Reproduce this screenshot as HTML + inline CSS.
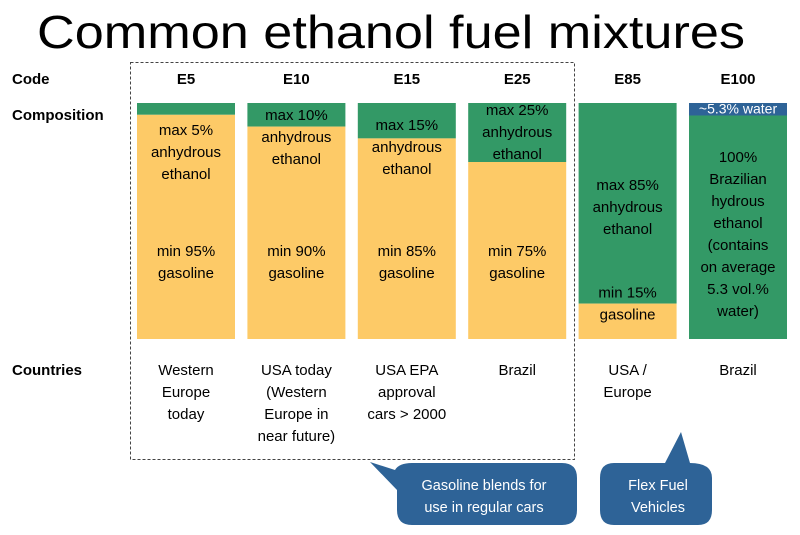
<!DOCTYPE html>
<html><head><meta charset="utf-8"><style>
html,body{margin:0;padding:0;background:#fff;}
svg{display:block;font-family:"Liberation Sans",sans-serif;}
</style></head><body>
<svg id="chart" width="800" height="535" viewBox="0 0 800 535" xmlns="http://www.w3.org/2000/svg">
<text x="391" y="48" font-size="46" text-anchor="middle" textLength="708" lengthAdjust="spacingAndGlyphs">Common ethanol fuel mixtures</text>
<text x="12" y="84" font-size="15" font-weight="bold">Code</text>
<text x="12" y="120" font-size="15" font-weight="bold">Composition</text>
<text x="12" y="375" font-size="15" font-weight="bold">Countries</text>
<rect x="130.5" y="62.5" width="444" height="397" fill="none" stroke="#444" stroke-dasharray="3,2"/>
<g id="bars"></g>
<path d="M412,463 L562,463 Q577,463 577,478 L577,510 Q577,525 562,525 L412,525 Q397,525 397,510 L397,490 L370,462 L395,470 Q399,463 412,463 Z" fill="#2E6397"/>
<text fill="#fff" font-size="14.5" text-anchor="middle"><tspan x="484" y="490">Gasoline blends for</tspan><tspan x="484" y="512">use in regular cars</tspan></text>
<path d="M614,463 L665,463 L681,432 L690,463 Q712,463 712,478 L712,510 Q712,525 698,525 L614,525 Q600,525 600,510 L600,478 Q600,463 614,463 Z" fill="#2E6397"/>
<text fill="#fff" font-size="14.5" text-anchor="middle"><tspan x="658" y="490">Flex Fuel</tspan><tspan x="658" y="512">Vehicles</tspan></text>
</svg>
<script>
const codes = ["E5","E10","E15","E25","E85","E100"];
const ethanolPct = [5,10,15,25,85,100];
const waterPct = [0,0,0,0,0,5.3];
const ethanolLabels = [["max 5%","anhydrous","ethanol"],["max 10%","anhydrous","ethanol"],["max 15%","anhydrous","ethanol"],["max 25%","anhydrous","ethanol"],["max 85%","anhydrous","ethanol"],["100%","Brazilian","hydrous","ethanol","(contains","on average","5.3 vol.%","water)"]];
const gasLabels = [["min 95%","gasoline"],["min 90%","gasoline"],["min 85%","gasoline"],["min 75%","gasoline"],["min 15%","gasoline"],[]];
const countries = [["Western","Europe","today"],["USA today","(Western","Europe in","near future)"],["USA EPA","approval","cars > 2000"],["Brazil"],["USA /","Europe"],["Brazil"]];

const NS="http://www.w3.org/2000/svg";
const g=document.getElementById('bars');
const top0=103, H=236, bw=98, x0=137, step=110.4;
const yScale=p=>top0+H*p/100;
const xPos=i=>x0+i*step;
function mk(tag,attrs){const e=document.createElementNS(NS,tag);for(const k in attrs)e.setAttribute(k,attrs[k]);g.appendChild(e);return e;}
function lines(arr,cx,y,name,fill,size){
  const t=mk('text',{x:cx,y:y,'text-anchor':'middle','font-size':size||15,fill:fill||'#000'});
  
  
  arr.forEach((s,k)=>{const ts=document.createElementNS(NS,'tspan');ts.setAttribute('x',cx);ts.setAttribute('y',y+k*22);ts.textContent=s;t.appendChild(ts);});
}
function ethanolLabelY(p){
  if(p<=5) return 135;
  if(p<=10) return 120;
  if(p<=15) return 130;
  if(p<=25) return 115;
  if(p<100) return 190;
  return 162;
}
codes.forEach((c,i)=>{
  const x=xPos(i), cx=x+bw/2;
  const code=mk('text',{x:cx,y:84,'text-anchor':'middle','font-size':15,'font-weight':'bold'});code.textContent=c;
  
  
  const w=waterPct[i], e=ethanolPct[i]-w;
  if(w>0){const r=mk('rect',{x:x,y:yScale(0),width:bw,height:yScale(w)-yScale(0),fill:'#2E6397'});
    
    }
  const re=mk('rect',{x:x,y:yScale(w),width:bw,height:yScale(w+e)-yScale(w),fill:'#339966'});
  
  
  if(ethanolPct[i]<100){const rg=mk('rect',{x:x,y:yScale(ethanolPct[i]),width:bw,height:yScale(100)-yScale(ethanolPct[i]),fill:'#FDCA67'});
    
    }
  if(w>0) lines(['~'+w+'% water'],cx,yScale(w)-2,'water-label-'+c.toLowerCase(),'#fff',14);
  lines(ethanolLabels[i],cx,ethanolLabelY(ethanolPct[i]),'ethanol-label-'+c.toLowerCase());
  if(gasLabels[i].length){
    const gy = ethanolPct[i]<=25 ? 256 : yScale(ethanolPct[i])-6;
    lines(gasLabels[i],cx,gy,'gasoline-label-'+c.toLowerCase());
  }
  lines(countries[i],cx,375,'countries-'+c.toLowerCase());
});
</script>
</body></html>
